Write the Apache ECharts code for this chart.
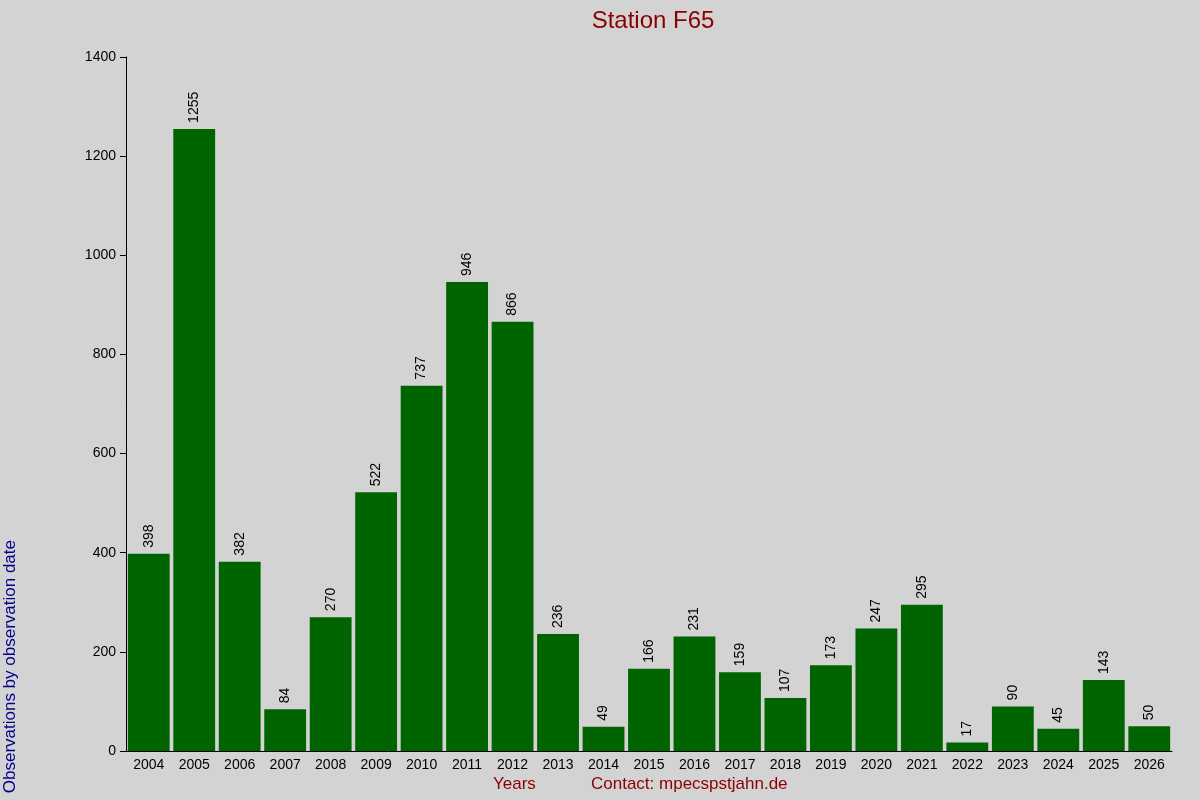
<!DOCTYPE html>
<html><head><meta charset="utf-8">
<script src="https://cdn.jsdelivr.net/npm/echarts@6/dist/echarts.min.js"></script>
<style>html,body{margin:0;background:#d3d3d3}#c{width:1200px;height:800px}</style>
</head><body><div id="c"></div>
<script>
const years=['2004','2005','2006','2007','2008','2009','2010','2011','2012','2013','2014','2015','2016','2017','2018','2019','2020','2021','2022','2023','2024','2025','2026'];
const counts=[398,1255,382,84,270,522,737,946,866,236,49,166,231,159,107,173,247,295,17,90,45,143,50];
const yTicks=[0,200,400,600,800,1000,1200,1400];
const c=echarts.init(document.getElementById('c'));
c.setOption({
backgroundColor:'#d3d3d3',
textStyle:{fontFamily:'Liberation Sans, Arial, sans-serif'},
title:{text:'Station F65',left:648,textAlign:'center',top:4,textStyle:{color:'#8b0000',fontSize:24,fontWeight:'normal'}},
graphic:[
{type:'text',left:493,top:776,style:{text:'Years',fill:'#8b0000',fontSize:17,font:'17px Liberation Sans'}},
{type:'text',left:591,top:776,style:{text:'Contact: mpecspstjahn.de',fill:'#8b0000',fontSize:17,font:'17px Liberation Sans'}},
{type:'text',left:2,top:540,rotation:Math.PI/2,style:{text:'Observations by observation date',fill:'#00008b',font:'17px Liberation Sans'}}
],
grid:{left:126,right:28,top:57,bottom:49},
xAxis:{type:'category',data:years,axisLine:{lineStyle:{color:'#000'}},axisTick:{show:false},
 axisLabel:{color:'#000',fontSize:14,interval:0,margin:7}},
yAxis:{type:'value',min:0,max:1400,interval:200,axisLine:{show:true,lineStyle:{color:'#000'}},
 axisTick:{show:true,length:6,lineStyle:{color:'#000'}},splitLine:{show:false},
 axisLabel:{color:'#000',fontSize:14,margin:10,formatter:v=>yTicks.includes(v)?String(v):''}},
series:[{type:'bar',data:counts,barCategoryGap:'8%',itemStyle:{color:'#006400'},
 label:{show:true,position:'top',rotate:90,align:'left',verticalAlign:'middle',distance:6,color:'#000',fontSize:14}}]
});
</script></body></html>
